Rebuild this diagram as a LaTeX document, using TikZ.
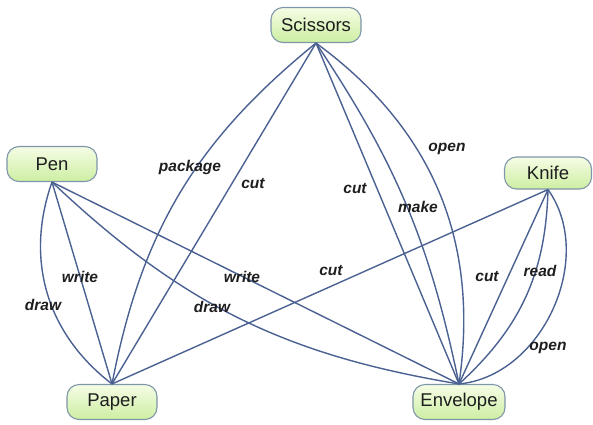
\documentclass[tikz,border=0pt]{standalone}
\usepackage{fontspec}
\setmainfont{Liberation Sans}
\definecolor{edgec}{HTML}{4A6192}
\definecolor{boxline}{HTML}{7F95AA}
\definecolor{boxtop}{HTML}{F5FDE6}
\definecolor{boxbot}{HTML}{CDEEA2}
\definecolor{txt}{HTML}{1E1E1E}
\begin{document}
\begin{tikzpicture}[x=1pt,y=-1pt,
  thing/.style={draw=boxline, line width=1.1pt, rounded corners=12pt,
    top color=boxtop, bottom color=boxbot, minimum width=90pt, minimum height=35pt,
    inner sep=0pt, text=txt, font=\fontsize{18.5}{20}\selectfont},
  rel/.style={text=txt, font=\fontsize{15.5}{17}\selectfont\bfseries\itshape, inner sep=0pt},
  link/.style={draw=edgec, line width=1.4pt}]
\useasboundingbox (0,0) rectangle (593,424);
\node[thing] (sc) at (316,25) {Scissors};
\node[thing] (pen) at (52,164) {Pen};
\node[thing, minimum width=87pt, minimum height=32pt] (kn) at (548,173) {Knife};
\node[thing] (pa) at (112,402) {Paper};
\node[thing, minimum width=92pt] (en) at (459,402) {Envelope};
% edges
\draw[link] (sc.south) to[bend right=20] (pa.north);
\draw[link] (sc.south) -- (pa.north);
\draw[link] (sc.south) -- (en.north);
\draw[link] (sc.south) to[bend left=11] (en.north);
\draw[link] (sc.south) to[bend left=31] (en.north);
\draw[link] (pen.south) to[bend right=36] (pa.north);
\draw[link] (pen.south) -- (pa.north);
\draw[link] (pen.south) -- (en.north);
\draw[link] (pen.south) to[bend right=17] (en.north);
\draw[link] (kn.south) -- (pa.north);
\draw[link] (kn.south) -- (en.north);
\draw[link] (kn.south) to[bend left=23] (en.north);
\draw[link] (kn.south) to[bend left=60] (en.north);
% labels
\node[rel] (l1) at (190,167) {package};
\node[rel] (l2) at (253,184) {cut};
\node[rel] (l3) at (355,189) {cut};
\node[rel] (l4) at (418,207) {make};
\node[rel] (l5) at (447,149) {open};
\node[rel] (l6) at (43,305) {draw};
\node[rel] (l7) at (80,277) {write};
\node[rel] (l8) at (242,277) {write};
\node[rel] (l9) at (212,307) {draw};
\node[rel] (l10) at (331,271) {cut};
\node[rel] (l11) at (487,277) {cut};
\node[rel] (l12) at (540,271) {read};
\node[rel] (l13) at (548,348) {open};
\end{tikzpicture}
\end{document}
